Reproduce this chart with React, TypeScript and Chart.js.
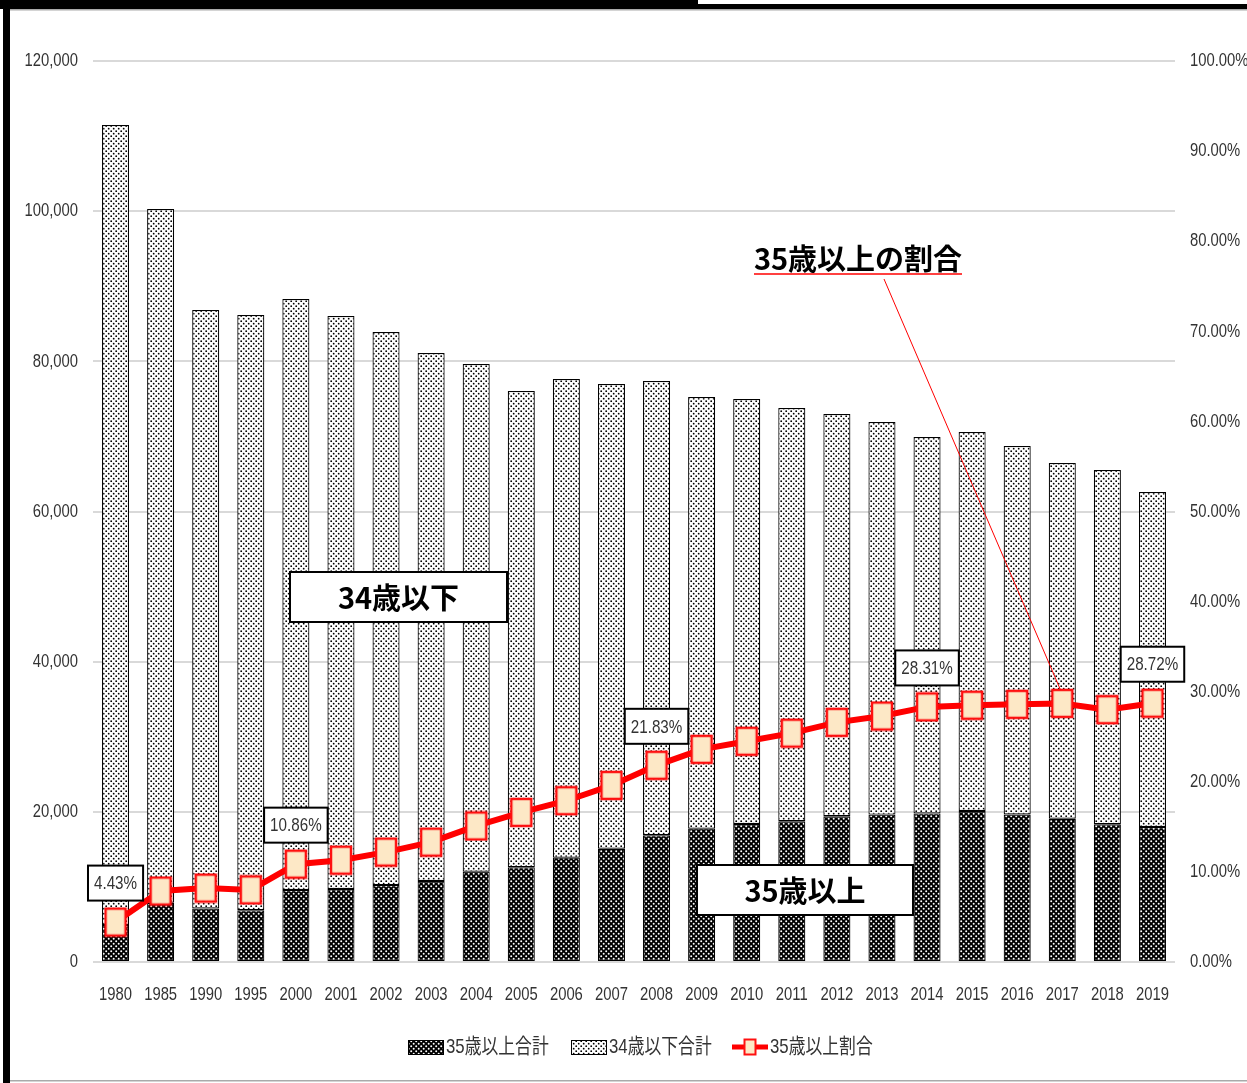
import React, { useEffect, useRef } from "react";
import { Chart, registerables } from "chart.js";

Chart.register(...registerables);

const years = ["1980", "1985", "1990", "1995", "2000", "2001", "2002", "2003", "2004", "2005", "2006", "2007", "2008", "2009", "2010", "2011", "2012", "2013", "2014", "2015", "2016", "2017", "2018", "2019"];
const over35 = [4940, 7900, 7120, 6900, 9590, 9720, 10240, 10790, 12030, 12620, 13900, 15090, 16890, 17760, 18370, 18740, 19420, 19630, 19790, 20120, 19650, 19070, 18350, 17980];
const under34 = [106540, 92390, 79720, 79270, 78710, 76320, 73670, 70320, 67610, 63430, 63750, 61890, 60490, 57490, 56610, 55050, 53570, 52290, 50130, 50470, 49070, 47390, 47180, 44620];
const ratio = [4.43, 7.88, 8.2, 8.0, 10.86, 11.3, 12.2, 13.3, 15.1, 16.6, 17.9, 19.6, 21.83, 23.6, 24.5, 25.4, 26.6, 27.3, 28.31, 28.5, 28.6, 28.7, 28.0, 28.72];
const labeledIdx = [0, 4, 12, 18, 23];
const leftTicks = [0, 20000, 40000, 60000, 80000, 100000, 120000];
const rightTicks = [0, 10, 20, 30, 40, 50, 60, 70, 80, 90, 100];
const legendNames = ["35歳以上合計", "34歳以下合計", "35歳以上割合"];
const boxLabels = ["34歳以下", "35歳以上", "35歳以上の割合"];

const FONT = '"Liberation Sans", "Noto Sans CJK JP", sans-serif';
const BOLD = '"Noto Sans CJK JP", "Noto Sans", sans-serif';
const TXT = "#333333";
const PEACH = "#FDE8C6";
const SX = 0.8;

function makePattern(bg: string, fg: string, r: number): CanvasPattern | string {
  const c = document.createElement("canvas");
  c.width = 5;
  c.height = 5;
  const g = c.getContext("2d")!;
  g.fillStyle = bg;
  g.fillRect(0, 0, 5, 5);
  g.fillStyle = fg;
  g.beginPath();
  g.arc(1.2, 1.2, r, 0, Math.PI * 2);
  g.fill();
  g.beginPath();
  g.arc(3.7, 3.7, r, 0, Math.PI * 2);
  g.fill();
  const main = document.createElement("canvas").getContext("2d")!;
  return main.createPattern(c, "repeat") || bg;
}

function makeMarker(w: number, h: number, lw: number): HTMLCanvasElement {
  const c = document.createElement("canvas");
  c.width = w + 4;
  c.height = h + 4;
  const g = c.getContext("2d")!;
  g.fillStyle = PEACH;
  g.fillRect(2, 2, w, h);
  g.strokeStyle = "#FF1010";
  g.lineWidth = lw;
  g.strokeRect(2, 2, w, h);
  return c;
}

function narrowText(ctx: CanvasRenderingContext2D, t: string, x: number, y: number, align: CanvasTextAlign, sx: number) {
  ctx.save();
  ctx.translate(x, y);
  ctx.scale(sx, 1);
  ctx.textAlign = align;
  ctx.textBaseline = "middle";
  ctx.fillText(t, 0, 0);
  ctx.restore();
}

export default function App() {
  const ref = useRef<HTMLCanvasElement | null>(null);

  useEffect(() => {
    if (!ref.current) return;
    const darkPat = makePattern("#000000", "#ffffff", 1.0);
    const lightPat = makePattern("#ffffff", "#000000", 0.9);
    const marker = makeMarker(20, 27, 2.5);
    const smallMarker = makeMarker(11, 15, 2);

    const deco = {
      id: "deco",
      beforeDraw(chart: any) {
        const ctx = chart.ctx;
        ctx.save();
        ctx.fillStyle = "#ffffff";
        ctx.fillRect(0, 0, chart.width, chart.height);
        ctx.restore();
      },
      afterDraw(chart: any) {
        const ctx = chart.ctx;
        const meta = chart.getDatasetMeta(2);
        const xs = chart.scales.x;
        const yl = chart.scales.y;
        const yr = chart.scales.y1;
        ctx.save();
        // frame
        ctx.fillStyle = "#000";
        ctx.fillRect(0, 0, 698, 9);
        ctx.fillRect(698, 4, chart.width - 698, 5);
        ctx.fillRect(3, 0, 7, chart.height);
        ctx.fillStyle = "#aaaaaa";
        ctx.fillRect(10, 9, chart.width - 10, 1.5);
        ctx.fillRect(10, 1080, chart.width - 10, 1.5);

        // tick labels
        ctx.fillStyle = TXT;
        ctx.font = `19px ${FONT}`;
        leftTicks.forEach((v) => {
          narrowText(ctx, v.toLocaleString("en-US"), 78, yl.getPixelForValue(v), "right", 0.78);
        });
        rightTicks.forEach((v) => {
          narrowText(ctx, v.toFixed(2) + "%", 1190, yr.getPixelForValue(v), "left", 0.78);
        });
        years.forEach((y, i) => {
          narrowText(ctx, y, xs.getPixelForValue(i), 995, "center", 0.78);
        });

        // value labels
        ctx.font = `19px ${FONT}`;
        labeledIdx.forEach((i) => {
          const p = meta.data[i];
          const txt = ratio[i].toFixed(2) + "%";
          const tw = ctx.measureText(txt).width * SX;
          const bw = tw + 12;
          const bh = 35;
          const cx = p.x;
          const cy = p.y - 39;
          ctx.fillStyle = "#fff";
          ctx.fillRect(cx - bw / 2, cy - bh / 2, bw, bh);
          ctx.strokeStyle = "#000";
          ctx.lineWidth = 2;
          ctx.strokeRect(cx - bw / 2, cy - bh / 2, bw, bh);
          ctx.fillStyle = TXT;
          narrowText(ctx, txt, cx, cy + 1, "center", SX);
        });

        // big boxes
        const bigBox = (x: number, y: number, w: number, h: number, t: string) => {
          ctx.fillStyle = "#fff";
          ctx.fillRect(x, y, w, h);
          ctx.strokeStyle = "#000";
          ctx.lineWidth = 2;
          ctx.strokeRect(x, y, w, h);
          ctx.fillStyle = "#000";
          ctx.font = `bold 29px ${BOLD}`;
          ctx.textAlign = "center";
          ctx.textBaseline = "middle";
          ctx.fillText(t, x + w / 2, y + h / 2 + 1);
        };
        bigBox(290, 572, 217, 50, boxLabels[0]);
        bigBox(697, 865, 216, 50, boxLabels[1]);

        // title with pointer
        ctx.font = `bold 29px ${BOLD}`;
        ctx.fillStyle = "#000";
        ctx.textAlign = "center";
        ctx.textBaseline = "middle";
        ctx.fillText(boxLabels[2], 858, 259);
        ctx.strokeStyle = "#FF4040";
        ctx.lineWidth = 2;
        ctx.beginPath();
        ctx.moveTo(754, 274);
        ctx.lineTo(962, 274);
        ctx.stroke();
        const tp = meta.data[21];
        ctx.strokeStyle = "#FF0000";
        ctx.lineWidth = 1;
        ctx.beginPath();
        ctx.moveTo(884, 279);
        ctx.lineTo(tp.x - 2, tp.y - 14);
        ctx.stroke();

        // legend
        const ly = 1047;
        ctx.font = `21px ${FONT}`;
        const LSX = 0.8;
        const legBox = (x: number, pat: any, t: string) => {
          ctx.fillStyle = pat;
          ctx.fillRect(x, ly - 7, 36, 15);
          ctx.strokeStyle = "#000";
          ctx.lineWidth = 1;
          ctx.strokeRect(x + 0.5, ly - 6.5, 35, 14);
          ctx.fillStyle = TXT;
          narrowText(ctx, t, x + 38, ly, "left", LSX);
        };
        legBox(408, darkPat, legendNames[0]);
        legBox(571, lightPat, legendNames[1]);
        ctx.strokeStyle = "#FF0000";
        ctx.lineWidth = 5;
        ctx.beginPath();
        ctx.moveTo(732, ly);
        ctx.lineTo(768, ly);
        ctx.stroke();
        ctx.drawImage(smallMarker, 750 - smallMarker.width / 2, ly - smallMarker.height / 2);
        ctx.fillStyle = TXT;
        narrowText(ctx, legendNames[2], 770, ly, "left", LSX);
        ctx.restore();
      },
    };

    const chart = new Chart(ref.current, {
      type: "bar",
      data: {
        labels: years,
        datasets: [
          {
            type: "bar",
            label: legendNames[0],
            data: over35,
            backgroundColor: darkPat as any,
            borderColor: "#000",
            borderWidth: 1.2,
            borderSkipped: false,
            yAxisID: "y",
            barPercentage: 0.6,
            categoryPercentage: 1,
            order: 2,
          },
          {
            type: "bar",
            label: legendNames[1],
            data: under34,
            backgroundColor: lightPat as any,
            borderColor: "#000",
            borderWidth: 1.2,
            borderSkipped: false,
            yAxisID: "y",
            barPercentage: 0.6,
            categoryPercentage: 1,
            order: 2,
          },
          {
            type: "line",
            label: legendNames[2],
            data: ratio,
            borderColor: "#FF0000",
            borderWidth: 6,
            yAxisID: "y1",
            pointStyle: marker as any,
            pointRadius: 12,
            tension: 0,
            order: 0,
          } as any,
        ],
      },
      options: {
        responsive: false,
        animation: false,
        events: [],
        layout: { padding: { top: 61, bottom: 71, left: 0, right: 0 } },
        plugins: { legend: { display: false }, tooltip: { enabled: false } },
        scales: {
          x: {
            stacked: true,
            grid: { display: false, drawTicks: false },
            border: { display: false },
            ticks: { display: false },
            afterFit: (s: any) => {
              s.height = 50;
            },
          },
          y: {
            stacked: true,
            position: "left",
            min: 0,
            max: 120000,
            afterBuildTicks: (s: any) => {
              s.ticks = leftTicks.map((v) => ({ value: v }));
            },
            grid: { color: "#d9d9d9", lineWidth: 2, drawTicks: false },
            border: { display: false },
            ticks: { display: false },
            afterFit: (s: any) => {
              s.width = 93;
            },
          },
          y1: {
            position: "right",
            min: 0,
            max: 100,
            grid: { display: false, drawTicks: false },
            border: { display: false },
            ticks: { display: false, stepSize: 10 },
            afterFit: (s: any) => {
              s.width = 72;
            },
          },
        },
      },
      plugins: [deco],
    });
    return () => chart.destroy();
  }, []);

  return (
    <div style={{ position: "absolute", left: 0, top: 0, width: 1247, height: 1083, background: "#fff" }}>
      <canvas ref={ref} width={1247} height={1083} style={{ display: "block", width: 1247, height: 1083 }} />
    </div>
  );
}
